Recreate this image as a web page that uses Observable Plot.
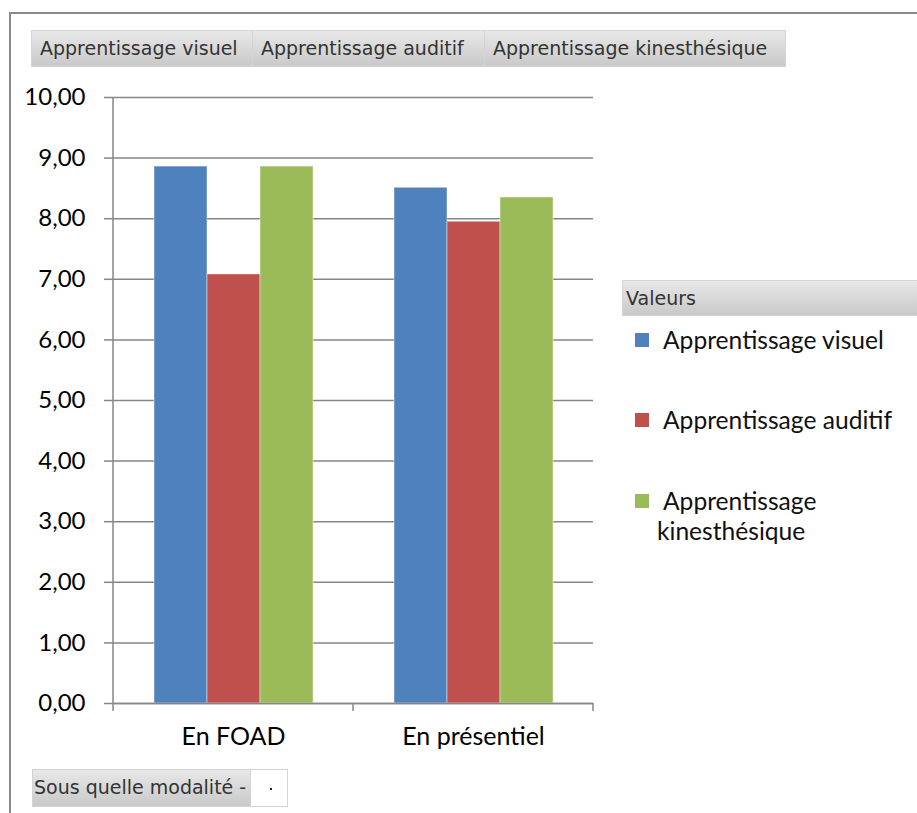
<!DOCTYPE html>
<html><head><meta charset="utf-8">
<script src="https://cdn.jsdelivr.net/npm/d3@7"></script>
<script src="https://cdn.jsdelivr.net/npm/@observablehq/plot@0.6"></script>
<style>
  html, body { margin: 0; padding: 0; background: #fff; }
  #wrap { position: relative; width: 917px; height: 813px; overflow: hidden; background: #fff; }
  #chart { position: absolute; left: 0; top: 0; }
  .frame { position: absolute; left: 9px; top: 12px; width: 1000px; height: 900px; border-top: 2px solid #8a8a8a; border-left: 2px solid #8a8a8a; box-sizing: border-box; pointer-events: none; }
  .btn { position: absolute; box-sizing: border-box; height: 37px; background: linear-gradient(#e8e8e8, #c9c9c9); border: 1px solid #d4d4d4;
         font-family: "DejaVu Sans", sans-serif; font-size: 19px; color: #333; line-height: 35px; padding-left: 8px; white-space: nowrap; }
  .sq { position: absolute; width: 14px; height: 14px; left: 635px; }
  .lt { position: absolute; left: 657px; width: 255px; font-family: Lato, sans-serif; font-size: 24.6px; line-height: 30px; color: #111; text-indent: 6px; }
</style></head>
<body>
<div id="wrap">
  <div id="chart"></div>
  <div class="frame"></div>
  <div id="topbtns"></div>
  <div id="legend"></div>
  <div class="btn" style="left:32px; top:769px; width:219px; height:38px; padding-left:1px;">Sous quelle modalité -</div>
  <div style="position:absolute; left:250px; top:769px; width:38px; height:38px; box-sizing:border-box; border:1px solid #d4d4d4; background:#fff;">
    <div style="position:absolute; left:19px; top:18px; width:2px; height:2px; background:#222;"></div>
  </div>
</div>
<script>
const categories = ["En FOAD", "En présentiel"];
const series = ["Apprentissage visuel", "Apprentissage auditif", "Apprentissage kinesthésique"];
const valuesFOAD = [8.86, 7.08, 8.86];
const valuesPresentiel = [8.51, 7.95, 8.35];
const colors = ["#4F81BD", "#C0504D", "#9BBB59"];
const yTicks = [0, 1, 2, 3, 4, 5, 6, 7, 8, 9, 10];
const legendTitle = "Valeurs";

const data = [];
series.forEach((s, i) => data.push({cat: categories[0], series: s, value: valuesFOAD[i]}));
series.forEach((s, i) => data.push({cat: categories[1], series: s, value: valuesPresentiel[i]}));

const W = 917, H = 813;
const chart = Plot.plot({
  width: W, height: H,
  marginLeft: 113, marginRight: 324, marginTop: 97, marginBottom: 110,
  style: {background: "transparent", fontFamily: "Lato, sans-serif", color: "#000"},
  fx: {domain: categories, padding: 0, label: null},
  x: {domain: series, paddingInner: 0, paddingOuter: 0.75, axis: null},
  y: {domain: [0, 10], label: null},
  color: {domain: series, range: colors},
  marks: [
    Plot.gridY(yTicks, {stroke: "#868686", strokeOpacity: 1, strokeWidth: 1.5}),
    Plot.barY(data, {fx: "cat", x: "series", y: "value", fill: "series", stroke: "#ffffff", strokeOpacity: 0.45, strokeWidth: 1}),
    Plot.ruleY([0], {stroke: "#868686", strokeWidth: 1.5}),
    Plot.axisY({ticks: yTicks, tickSize: 9, tickPadding: 19, fontSize: 24, stroke: "#868686", strokeWidth: 1.5,
                tickFormat: d => d.toFixed(2).replace(".", ","), label: null}),
    Plot.axisFx({anchor: "bottom", tickSize: 0, tickPadding: 24, fontSize: 25, label: null})
  ]
});
document.getElementById("chart").appendChild(chart);

// axis line and category-boundary ticks, positioned with the plot's own scales
const fx = chart.scale("fx"), y = chart.scale("y");
const svg = d3.select(chart);
const x0 = fx.apply(categories[0]);
const bounds = categories.map(c => fx.apply(c)).concat([fx.apply(categories[categories.length - 1]) + fx.bandwidth]);
svg.append("line").attr("x1", x0).attr("x2", x0).attr("y1", y.apply(10)).attr("y2", y.apply(0))
  .attr("stroke", "#868686").attr("stroke-width", 1.5);
svg.selectAll("line.bt").data(bounds).join("line").attr("class", "bt")
  .attr("x1", d => d).attr("x2", d => d).attr("y1", y.apply(0)).attr("y2", y.apply(0) + 8)
  .attr("stroke", "#868686").attr("stroke-width", 1.5);

// top field buttons
const btnLefts = [31, 252, 484], btnWidths = [222, 233, 302];
const tb = document.getElementById("topbtns");
series.forEach((s, i) => {
  const d = document.createElement("div");
  d.className = "btn";
  d.style.left = btnLefts[i] + "px"; d.style.top = "30px"; d.style.width = btnWidths[i] + "px";
  d.textContent = s;
  tb.appendChild(d);
});

// legend
const lg = document.getElementById("legend");
const head = document.createElement("div");
head.className = "btn";
head.style.cssText = "left:622px; top:280px; width:300px; height:36px; padding-left:3px; line-height:34px;";
head.textContent = legendTitle;
lg.appendChild(head);
const itemTops = [333, 413, 494];
series.forEach((s, i) => {
  const sq = document.createElement("div");
  sq.className = "sq"; sq.style.top = itemTops[i] + "px"; sq.style.background = colors[i];
  lg.appendChild(sq);
  const t = document.createElement("div");
  t.className = "lt"; t.style.top = (itemTops[i] + 7 - 15) + "px";
  t.textContent = s;
  lg.appendChild(t);
});
</script>
</body></html>
